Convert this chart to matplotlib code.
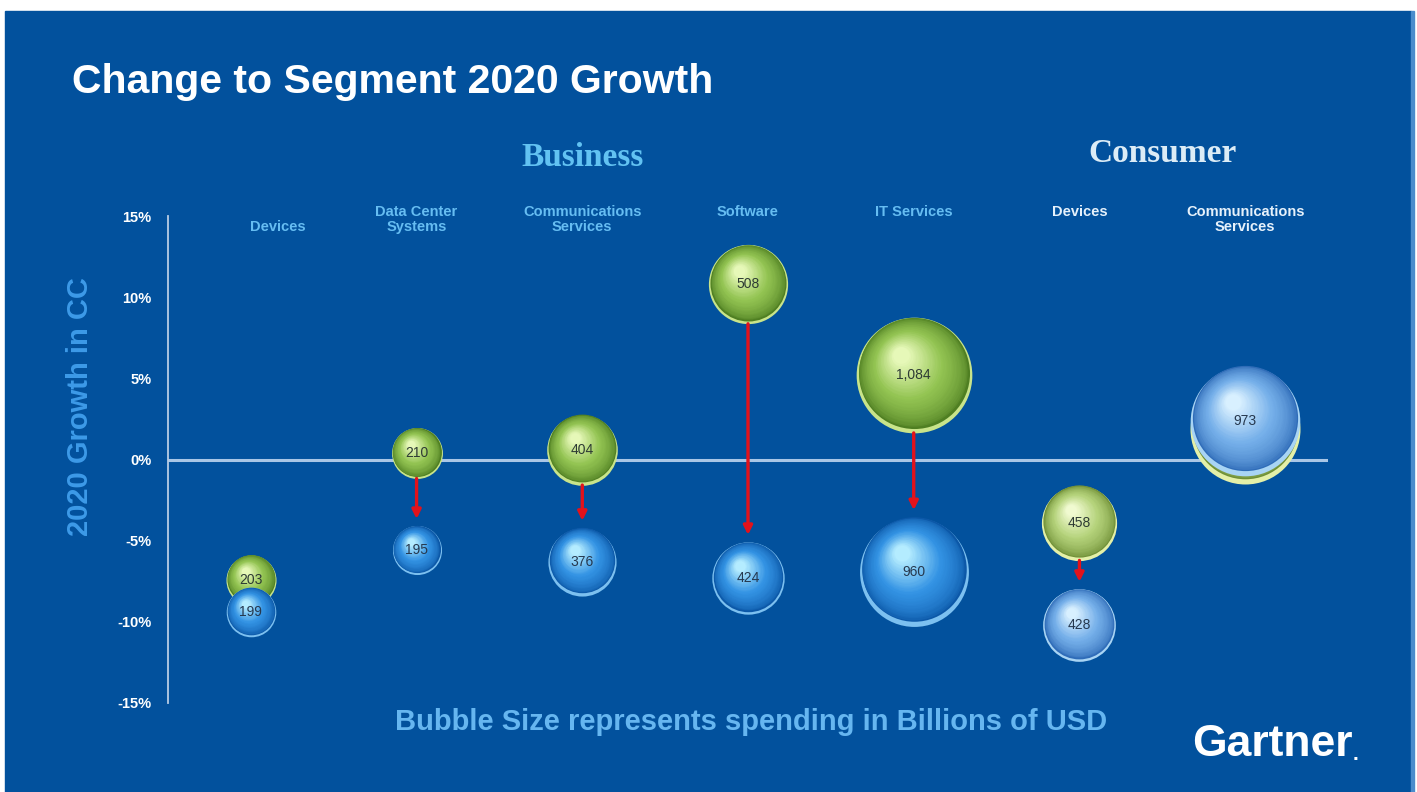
import numpy as np
import matplotlib
matplotlib.use("Agg")
from matplotlib import pyplot as plt
from matplotlib import transforms
from matplotlib.colors import to_rgb
from matplotlib.patches import Rectangle

# segments (left to right)
segments = ["Devices", "Data Center\nSystems", "Communications\nServices", "Software",
            "IT Services", "Devices", "Communications\nServices"]
groups = ["Business", "Business", "Business", "Business", "Business", "Consumer", "Consumer"]

# previous forecast (green) and current forecast (blue)
old_growth = [-7.4, 0.4, 0.6, 10.8, 5.2, -3.9, 1.9]
old_spend = [203, 210, 404, 508, 1084, 458, 980]
new_growth = [-9.4, -5.6, -6.3, -7.3, -6.9, -10.2, 2.4]
new_spend = [199, 195, 376, 424, 960, 428, 973]
old_labels = ["203", "210", "404", "508", "1,084", "458", ""]
new_labels = ["199", "195", "376", "424", "960", "428", "973"]
show_arrow = [False, True, True, True, True, True, False]

yticks = [-15, -10, -5, 0, 5, 10, 15]

BG = "#02519d"
W, H = 1417, 792

# sphere palettes: edge, body, highlight, bottom rim
GREEN = ("#4f7f22", "#93c452", "#e6f8b8", "#c8e48a")
BLUE = ("#0c58a8", "#3393e4", "#b4ecff", "#7cc0f0")
GREEN_PALE = ("#6f8f36", "#b4d27a", "#f0fad0", "#e4f0a8")
BLUE_PALE = ("#2f6cb8", "#76b0ea", "#d8f0ff", "#a8d4f4")

old_pal = [GREEN] * 5 + [GREEN_PALE, GREEN_PALE]
new_pal = [BLUE] * 5 + [BLUE_PALE, BLUE_PALE]

SIZE_SCALE = 6.4  # marker area (pt^2) per billion USD
SANS = ["Liberation Sans", "DejaVu Sans"]

fig = plt.figure(figsize=(W / 100, H / 100), dpi=100)
fig.patch.set_facecolor("white")
fig.add_artist(Rectangle((5 / W, 0), (1411 - 5) / W, (H - 11) / H,
                         transform=fig.transFigure, color=BG, zorder=-20))
fig.add_artist(Rectangle((1411 / W, 0), 3 / W, (H - 11) / H,
                         transform=fig.transFigure, color="#4a8ccc", zorder=-20))

ax = fig.add_axes([168 / W, 1 - 703 / H, (1328 - 168) / W, (703 - 216) / H])
ax.set_facecolor("none")
ax.set_xlim(-0.5, 6.5)
ax.set_ylim(-15, 15)
for side in ["top", "right", "bottom"]:
    ax.spines[side].set_visible(False)
ax.spines["left"].set_color("#b8cce4")
ax.spines["left"].set_linewidth(1.3)
ax.axhline(0, color="#a9c6e6", lw=2.2, zorder=1)
ax.set_xticks([])
ax.set_yticks(yticks)
ax.set_yticklabels([f"{v}%" for v in yticks], color="white", fontsize=10.5,
                   fontweight="bold", family=SANS)
ax.tick_params(axis="y", length=0, pad=12)


def blend(c1, c2, t):
    a, b = np.array(to_rgb(c1)), np.array(to_rgb(c2))
    return tuple(a + (b - a) * t)


def sphere(x, y, spend, pal, z):
    edge, body, light, rim = pal
    s = spend * SIZE_SCALE
    r = np.sqrt(s) / 2
    # light reflection along the bottom
    ax.scatter([x], [y], s=s, color=rim, linewidths=0, zorder=z)
    n = 36
    for i in range(n):
        t = i / (n - 1)
        f = 0.96 * (1 - 0.85 * t)
        if t < 0.45:
            col = blend(edge, body, (t / 0.45) ** 0.6)
        else:
            col = blend(body, light, (t - 0.45) / 0.55)
        dx = -0.22 * r * t
        dy = 0.04 * r + 0.30 * r * t
        tr = transforms.offset_copy(ax.transData, fig=fig, x=dx, y=dy, units="points")
        ax.scatter([x], [y], s=s * f * f, color=col, linewidths=0, transform=tr,
                   zorder=z + 0.01 * (i + 1))
    return r


xs = np.arange(len(segments))
for i in xs:
    rg = sphere(i, old_growth[i], old_spend[i], old_pal[i], 2)
    rb = sphere(i, new_growth[i], new_spend[i], new_pal[i], 3)
    if old_labels[i]:
        ax.text(i, old_growth[i], old_labels[i], ha="center", va="center", fontsize=10,
                color="#2e3b34", zorder=6, family=SANS)
    ax.text(i, new_growth[i], new_labels[i], ha="center", va="center", fontsize=10,
            color="#26384e", zorder=6, family=SANS)
    if show_arrow[i]:
        ax.annotate("", xy=(i, new_growth[i]), xytext=(i, old_growth[i]),
                    arrowprops=dict(arrowstyle="-|>", color="#e3121b", lw=2.4,
                                    mutation_scale=13, shrinkA=rg, shrinkB=rb + 5),
                    zorder=5)

# segment captions above the plot
cap = transforms.blended_transform_factory(ax.transData, fig.transFigure)
label_dx = [0.16, 0, 0, 0, 0, 0, 0]
label_top = [220, 205, 205, 205, 205, 205, 205]
for i, name in enumerate(segments):
    col = "#66bdf2" if groups[i] == "Business" else "#e6f1fb"
    ax.text(i + label_dx[i], 1 - label_top[i] / H, name, transform=cap, ha="center",
            va="top", fontsize=10.5, fontweight="bold", color=col, linespacing=1.05,
            family=SANS)

ax.text(2, 1 - 157 / H, "Business", transform=cap, ha="center", va="center",
        fontsize=24, fontweight="bold", color="#62c2f2", family=["Liberation Serif"])
ax.text(5.5, 1 - 154 / H, "Consumer", transform=cap, ha="center", va="center",
        fontsize=24, fontweight="bold", color="#dcecf6", family=["Liberation Serif"])

fig.text(72 / W, 1 - 82 / H, "Change to Segment 2020 Growth", ha="left", va="center",
         fontsize=29.5, fontweight="bold", color="white", family=SANS)
fig.text(80 / W, 1 - 407 / H, "2020 Growth in CC", rotation=90, ha="center", va="center",
         fontsize=21, fontweight="bold", color="#3d9ae8", family=SANS)
fig.text(751 / W, 1 - 722 / H, "Bubble Size represents spending in Billions of USD",
         ha="center", va="center", fontsize=21, fontweight="bold", color="#66b6f0",
         family=SANS)
fig.text(1192 / W, 1 - 745 / H, "Gartner", ha="left", va="center", fontsize=32,
         fontweight="bold", color="white", family=SANS)
fig.text(1353 / W, 1 - 760 / H, ".", ha="left", va="baseline", fontsize=15,
         fontweight="bold", color="white", family=SANS)

fig.savefig("out.png", dpi=100)
